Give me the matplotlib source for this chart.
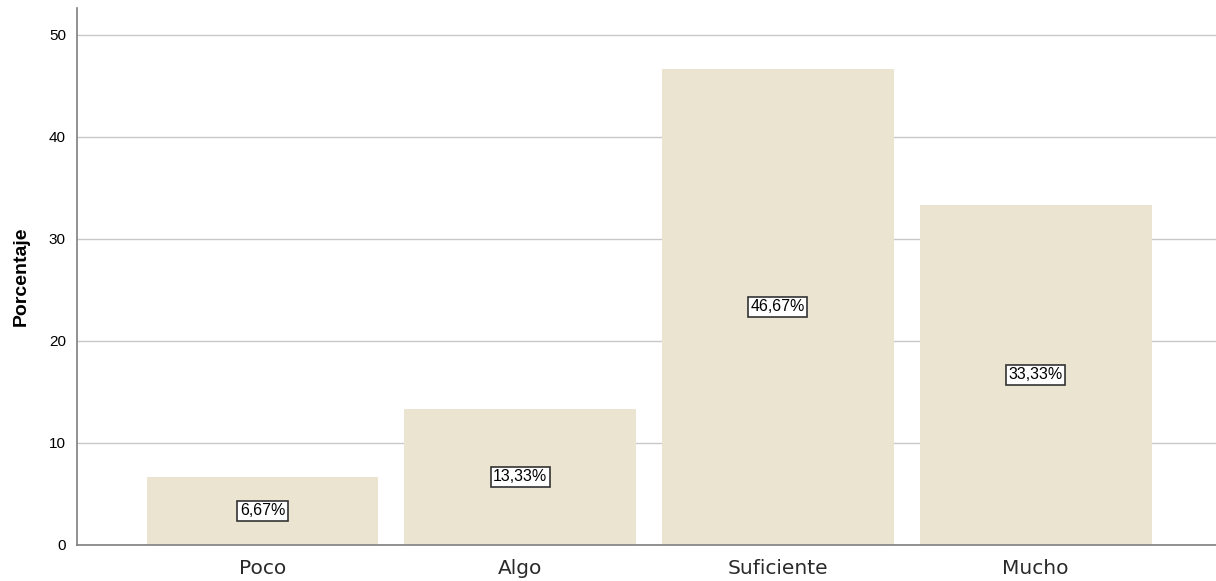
import matplotlib
matplotlib.use("Agg")
import matplotlib.pyplot as plt

# ====== DATA ======
categories = ["Poco", "Algo", "Suficiente", "Mucho"]
percentages = [6.67, 13.33, 46.67, 33.33]
yticks = [0, 10, 20, 30, 40, 50]

BAR_COLOR = "#ebe4d1"
GRID_COLOR = "#c8c8c8"
AXIS_COLOR = "#7f7f7f"

plt.rcParams["font.family"] = ["Liberation Sans", "DejaVu Sans"]

fig = plt.figure(figsize=(12.16, 5.81), dpi=100)
ax = fig.add_axes([0.0633, 0.062, 0.9367, 0.924])

x = range(len(categories))
ax.bar(x, percentages, width=0.9, color=BAR_COLOR, zorder=2)

for xi, v in zip(x, percentages):
    ax.text(xi, v / 2, f"{v:.2f}%".replace(".", ","),
            ha="center", va="center", fontsize=11.5, zorder=3,
            bbox=dict(boxstyle="square,pad=0.15", facecolor="white",
                      edgecolor="#333333", linewidth=1.2))

ax.set_xlim(-0.72, 3.70)
ax.set_ylim(0, 52.6)
ax.set_yticks(yticks)
ax.set_xticks(list(x))
ax.set_xticklabels(categories, fontsize=14.5, color="#2a2a2a", family="DejaVu Sans")
ax.tick_params(axis="y", labelsize=11, length=0, pad=8)
ax.tick_params(axis="x", length=0, pad=10)

ax.yaxis.grid(True, color=GRID_COLOR, linewidth=1, zorder=1)
ax.set_axisbelow(True)

for side in ["top", "right"]:
    ax.spines[side].set_visible(False)
ax.spines["left"].set_color(AXIS_COLOR)
ax.spines["bottom"].set_color(AXIS_COLOR)
ax.spines["left"].set_linewidth(1.2)
ax.spines["bottom"].set_linewidth(1.2)

ax.set_ylabel("Porcentaje", fontsize=14, fontweight="bold", labelpad=14)

fig.savefig("out.png", dpi=100)
